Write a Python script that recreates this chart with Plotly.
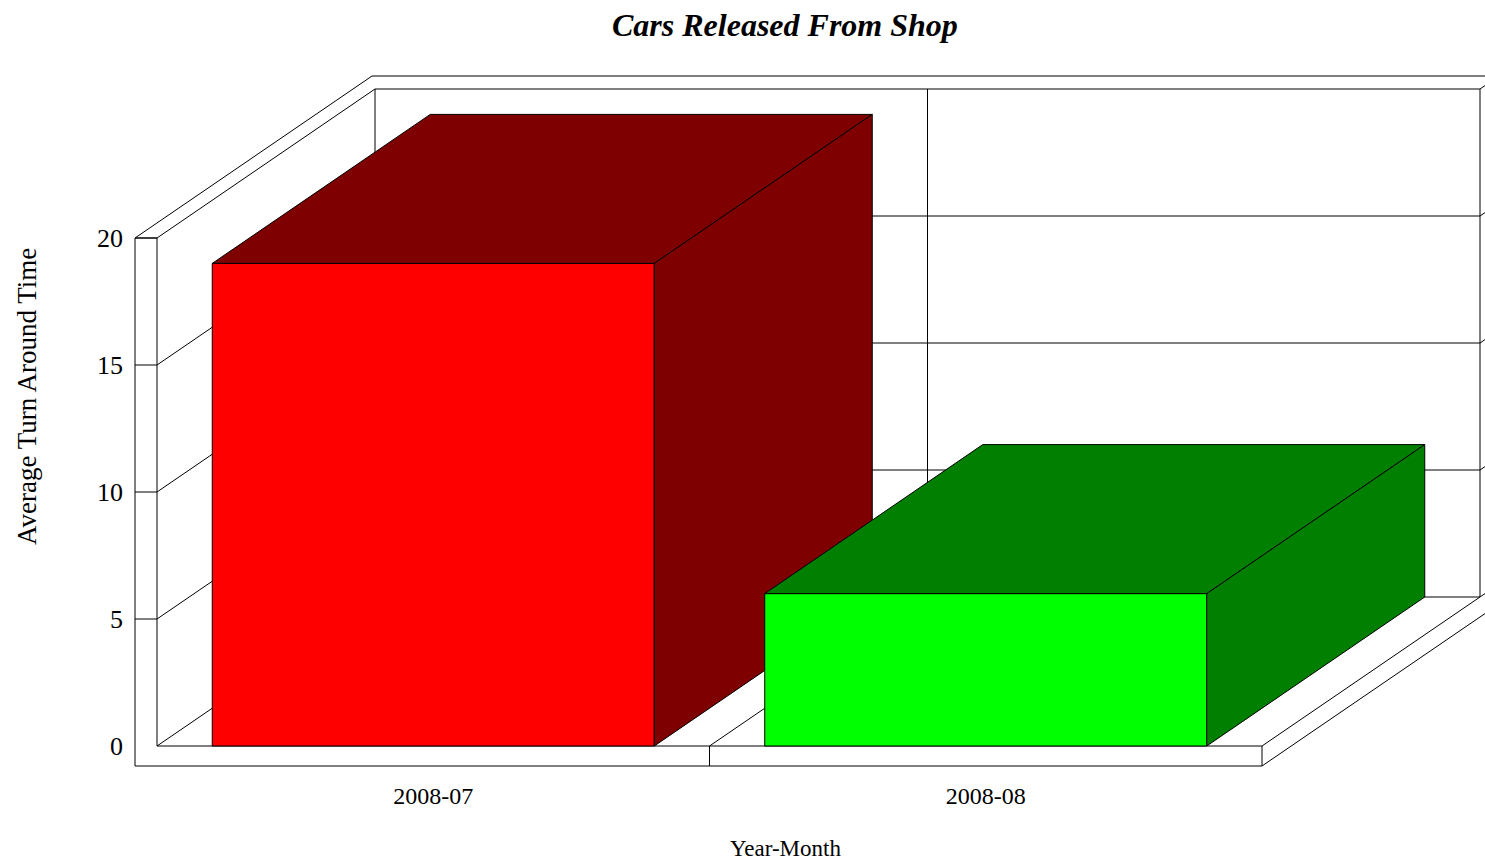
import plotly.graph_objects as go

# ---- data ----
categories = ["2008-07", "2008-08"]
values = [19.0, 6.0]
front_colors = ["#FF0000", "#00FF00"]
shade_colors = ["#7F0000", "#007F00"]
y_ticks = [0, 5, 10, 15, 20]

# ---- 3D geometry (axis units) ----
BAR_W = 0.8                 # bar width as fraction of category
DX = 218 / 552.5            # depth offset in x units
DY = 149 / 25.4             # depth offset in y units
TX = 22 / 552.5             # left wall thickness
TY = 20 / 25.4              # floor thickness
TB = 13 / 149               # back wall thickness (fraction of depth)

n = len(categories)
x0, x1 = -0.5, n - 0.5
ytop = max(y_ticks)

fig = go.Figure()
shapes = []


def line(xa, ya, xb, yb):
    shapes.append(dict(type="line", xref="x", yref="y", x0=xa, y0=ya, x1=xb, y1=yb,
                       line=dict(color="black", width=1), layer="below"))


# left wall + floor front face (L shape)
shapes.append(dict(type="path", xref="x", yref="y", layer="below",
                   path=f"M{x0-TX},{ytop} L{x0},{ytop} L{x0},0 L{x1},0 L{x1},{-TY} L{x0-TX},{-TY} Z",
                   line=dict(color="black", width=1), fillcolor="white"))
for v in y_ticks:
    if 0 < v:
        line(x0 - TX, v, x0, v)
    # left wall inner plane grid
    line(x0, v, x0 + DX, v + DY)
    # back wall horizontal grid
    line(x0 + DX, v + DY, x1 + DX, v + DY)
    # stub over back wall thickness
    line(x1 + DX, v + DY, x1 + DX * (1 + TB), v + DY * (1 + TB))

# left wall outer top edge
line(x0 - TX, ytop, x0 - TX + DX * (1 + TB), ytop + DY * (1 + TB))
# back wall outer top edge
line(x0 - TX + DX * (1 + TB), ytop + DY * (1 + TB), x1 + DX * 2, ytop + DY * (1 + TB))
# back wall verticals
line(x0 + DX, DY, x0 + DX, ytop + DY)
line(x1 + DX, DY, x1 + DX, ytop + DY)
for k in range(1, n):
    c = x0 + k
    line(c + DX, DY, c + DX, ytop + DY)
    line(c, -TY, c, 0)
    line(c, 0, c + DX, DY)
# floor right edges
line(x1, 0, x1 + DX, DY)
line(x1, -TY, x1 + DX * 1.5, -TY + DY * 1.5)

# ---- bars (front, top, side faces) ----
for i, (cat, v) in enumerate(zip(categories, values)):
    a, b = i - BAR_W / 2, i + BAR_W / 2
    faces = [
        ([a, b, b, a, a], [0, 0, v, v, 0], front_colors[i]),
        ([a, b, b + DX, a + DX, a], [v, v, v + DY, v + DY, v], shade_colors[i]),
        ([b, b + DX, b + DX, b, b], [0, DY, v + DY, v, 0], shade_colors[i]),
    ]
    for xs, ys, col in faces:
        fig.add_trace(go.Scatter(x=xs, y=ys, mode="lines", fill="toself",
                                 fillcolor=col, line=dict(color="black", width=1),
                                 hoverinfo="skip", showlegend=False))

px_x = 552.5
px_y = 25.4
L, R, T, B = 130, 0, 70, 92
fig.update_layout(
    width=1485, height=862,
    margin=dict(l=L, r=R, t=T, b=B),
    plot_bgcolor="white", paper_bgcolor="white",
    shapes=shapes,
    showlegend=False,
    font=dict(family="Liberation Serif", color="black", size=24),
    xaxis=dict(range=[x0 - (157 - L) / px_x, x0 + (1485 - R - 157) / px_x],
               tickvals=list(range(n)), ticktext=categories,
               showgrid=False, zeroline=False, showline=False, ticks="",
               ticklabelstandoff=9, tickfont=dict(size=24)),
    yaxis=dict(range=[-(770 - 746) / px_y, (746 - 70) / px_y],
               tickvals=y_ticks, showgrid=False, zeroline=False, showline=False,
               ticks="", ticklabelstandoff=6, tickfont=dict(size=26)),
    annotations=[
        dict(text="<b><i>Cars Released From Shop</i></b>", xref="paper", yref="paper",
             x=(785 - L) / (1485 - L - R), y=1 + (T - 25) / (862 - T - B),
             xanchor="center", yanchor="middle", showarrow=False,
             font=dict(family="Liberation Serif", size=32)),
        dict(text="Year-Month", xref="paper", yref="paper",
             x=(785 - L) / (1485 - L - R), y=-(848 - (862 - B)) / (862 - T - B),
             xanchor="center", yanchor="middle", showarrow=False,
             font=dict(size=23)),
        dict(text="Average Turn Around Time", xref="paper", yref="paper",
             x=-(L - 27) / (1485 - L - R), y=(862 - B - 397) / (862 - T - B),
             xanchor="center", yanchor="middle", showarrow=False, textangle=-90,
             font=dict(size=27)),
    ],
)

fig.write_html("out.html", config={"displayModeBar": False},
               post_script="document.body.style.margin='0';document.body.style.overflow='hidden';")
